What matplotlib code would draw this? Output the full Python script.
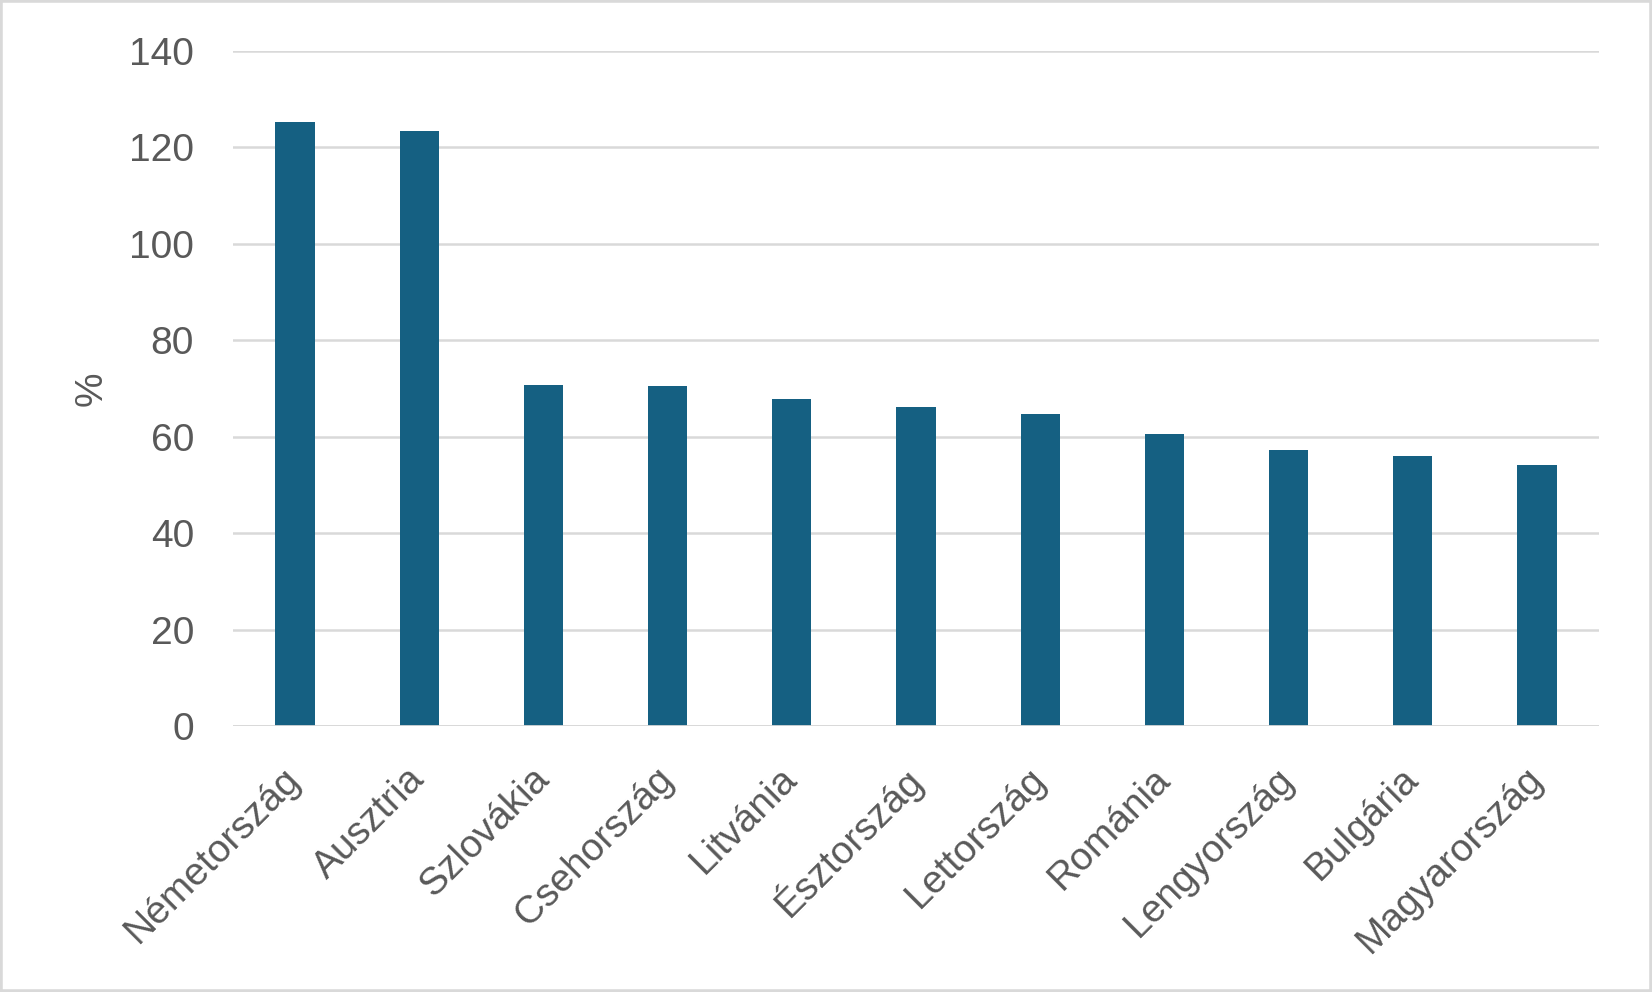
import matplotlib
matplotlib.use("Agg")
import matplotlib.pyplot as plt
from matplotlib.patches import Rectangle

countries = [
    "Németország", "Ausztria", "Szlovákia", "Csehország", "Litvánia",
    "Észtország", "Lettország", "Románia", "Lengyország", "Bulgária",
    "Magyarország",
]
values = [125.2, 123.3, 70.7, 70.5, 67.8, 66.1, 64.7, 60.6, 57.2, 56.0, 54.1]
y_ticks = [0, 20, 40, 60, 80, 100, 120, 140]

plt.rcParams["font.family"] = ["Liberation Sans", "DejaVu Sans"]
text_color = "#595959"
grid_color = "#d9d9d9"

fig = plt.figure(figsize=(16.52, 9.92), dpi=100)
ax = fig.add_axes([0.141, 0.268, 0.827, 0.681])

x = range(len(countries))
ax.bar(x, values, width=0.315, color="#156082", zorder=3)

ax.set_xlim(-0.5, len(countries) - 0.5)
ax.set_ylim(0, 140)
ax.set_yticks(y_ticks)
ax.yaxis.grid(True, color=grid_color, linewidth=1.8, zorder=0)
for side in ["top", "right", "left", "bottom"]:
    ax.spines[side].set_visible(False)
ax.axhline(0, color=grid_color, linewidth=2.0, zorder=4)

ax.tick_params(axis="y", length=0, pad=28, labelsize=28, labelcolor=text_color)
ax.tick_params(axis="x", length=0, pad=34, labelsize=28, labelcolor=text_color)
ax.set_xticks(list(x))
ax.set_xticklabels(countries, rotation=45, ha="right", va="center",
                   rotation_mode="anchor")

ax.set_ylabel("%", fontsize=28, color=text_color, labelpad=14)

fig.patches.append(Rectangle((0, 0), 1, 1, transform=fig.transFigure,
                             fill=False, edgecolor=grid_color, linewidth=4))

fig.savefig("out.png", dpi=100)
